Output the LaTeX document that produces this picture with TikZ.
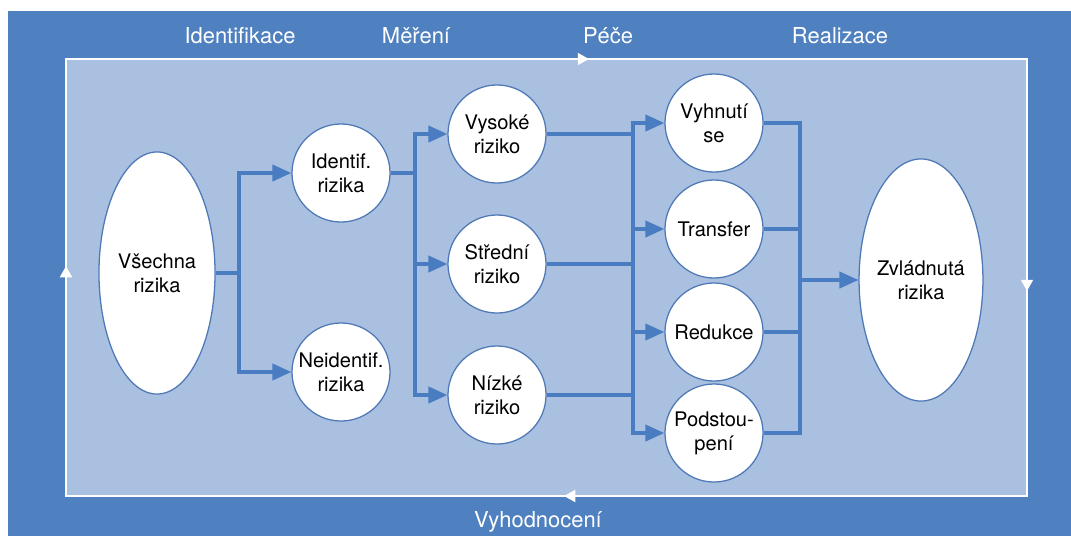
\documentclass[tikz,border=0pt]{standalone}
\usepackage{fontspec}
\setmainfont{TeX Gyre Heros}
\usetikzlibrary{arrows.meta, shapes.geometric}
\definecolor{riskBlue}{HTML}{4F80BF}
\definecolor{riskPale}{HTML}{A9C0E0}
\definecolor{riskLine}{HTML}{4A7CC1}
\definecolor{riskEdge}{HTML}{4F79B6}
\begin{document}
\begin{tikzpicture}[x=0.025cm,y=-0.025cm,
  stage/.style={circle,minimum size=2.45cm,inner sep=0pt,fill=white,draw=riskEdge,line width=0.9pt,align=center,font=\fontsize{14.3}{17}\selectfont},
  pool/.style={ellipse,minimum width=2.9cm,minimum height=6.05cm,inner sep=0pt,fill=white,draw=riskEdge,line width=0.9pt,align=center,font=\fontsize{14.3}{17}\selectfont},
  flow/.style={riskLine,line width=2.5pt},
  push/.style={flow,-{Triangle[length=13.5pt,width=11.5pt]}},
  phase/.style={anchor=base,text=white,font=\fontsize{15.6}{18}\selectfont},
  cycle/.style={white,line width=1.4pt,-{Triangle[length=8pt,width=8.5pt]}}]
\fill[white] (0,0) rectangle (1071,536);
\fill[riskBlue] (8,11) rectangle (1071,536);
\coordinate (tl) at (66,59);
\coordinate (tr) at (1027,59);
\coordinate (br) at (1027,496);
\coordinate (bl) at (66,496);
\fill[riskPale] (tl) rectangle (br);
\draw[cycle] (bl) -- (66,266);
\draw[cycle] (tl) -- (589,59);
\draw[cycle] (tr) -- (1027,291);
\draw[cycle] (br) -- (564,496);
\draw[white,line width=1.4pt] (tl) rectangle (br);
\node[phase] (lident) at (240,43) {Identifikace};
\node[phase] (lmeas) at (416,43) {Měření};
\node[phase] (lcare) at (608,43) {Péče};
\node[phase] (lreal) at (840,43) {Realizace};
\node[phase] (leval) at (538,527) {Vyhodnocení};
\node[pool] (all) at (157,273) {Všechna\\rizika};
\node[stage] (ident) at (341,173) {Identif.\\rizika};
\node[stage] (unid) at (341,372) {Neidentif.\\rizika};
\node[stage] (high) at (497,134) {Vysoké\\riziko};
\node[stage] (mid) at (497,264) {Střední\\riziko};
\node[stage] (low) at (497,395) {Nízké\\riziko};
\node[stage] (avoid) at (714,123) {Vyhnutí\\se};
\node[stage] (transfer) at (714,229) {Transfer};
\node[stage] (reduce) at (714,332) {Redukce};
\node[stage] (accept) at (714,433) {Podstou-\\pení};
\node[pool] (done) at (921,280) {Zvládnutá\\rizika};
\coordinate (j1) at (239,273);
\coordinate (j2) at (415,173);
\coordinate (j3) at (633,123);
\coordinate (j4) at (800,280);
\draw[push] (all.east) -- (j1) |- (ident.west);
\draw[push] (j1) |- (unid.west);
\draw[push] (ident.east) -- (j2) |- (high.west);
\draw[push] (j2) |- (mid.west);
\draw[push] (j2) |- (low.west);
\draw[push] (high.east) -| (j3) -- (avoid.west);
\draw[push] (j3) |- (transfer.west);
\draw[push] (j3) |- (reduce.west);
\draw[push] (j3) |- (accept.west);
\draw[flow] (mid.east) -- (mid.east -| j3);
\draw[flow] (low.east) -- (low.east -| j3);
\draw[flow] (avoid.east) -| (j4);
\draw[flow] (accept.east) -| (j4);
\draw[flow] (transfer.east) -- (transfer.east -| j4);
\draw[flow] (reduce.east) -- (reduce.east -| j4);
\draw[push] (j4) -- (done.west);
\end{tikzpicture}
\end{document}
